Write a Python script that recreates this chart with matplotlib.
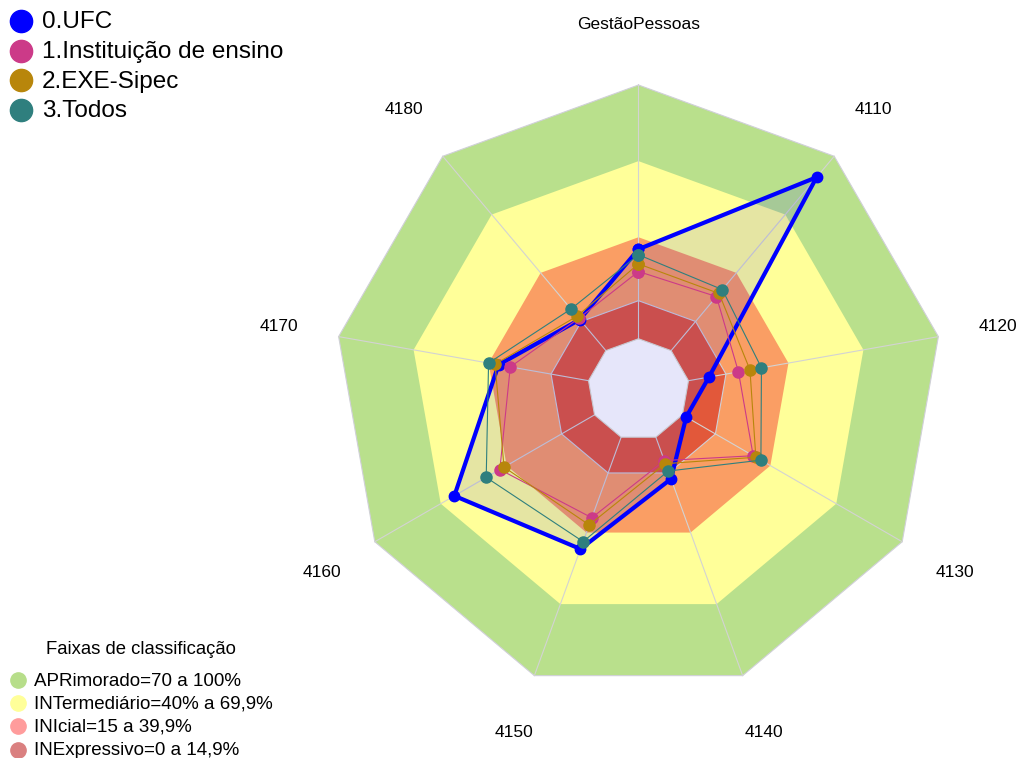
import numpy as np
import matplotlib
matplotlib.use('Agg')
import matplotlib.pyplot as plt

plt.rcParams['font.family'] = ['Liberation Sans', 'DejaVu Sans']

# axes of the radar, clockwise from the top
categories = ['GestãoPessoas', '4110', '4120', '4130', '4140',
              '4150', '4160', '4170', '4180']

# values in %
ufc = [35.3, 89.2, 8.2, 1.7, 17.5, 46.9, 63.8, 36.0, 16.0]
instituicao = [26.5, 27.8, 20.0, 32.2, 9.8, 33.8, 43.1, 31.3, 16.6]
exe_sipec = [29.5, 29.4, 24.6, 33.4, 11.1, 36.8, 41.2, 37.4, 17.7]
todos = [33.1, 31.4, 29.2, 35.7, 14.2, 43.8, 49.3, 40.0, 21.4]

series_names = ['0.UFC', '1.Instituição de ensino', '2.EXE-Sipec', '3.Todos']
series_values = [ufc, instituicao, exe_sipec, todos]
series_colors = ['#0000FF', '#CC3A88', '#B8860B', '#2F7F7E']

# classification bands (upper limit of each band)
band_limits = [100, 70, 40, 15]
band_colors = ['#B9E08C', '#FFFF99', '#FA9E64', '#E2583A']
band_names = ['APRimorado=70 a 100%', 'INTermediário=40% a 69,9%',
              'INIcial=15 a 39,9%', 'INExpressivo=0 a 14,9%']
band_key_colors = ['#B7DE8A', '#FFFF99', '#FF9C9C', '#DA8080']
hole_color = '#E6E6FA'

CGAP = 1 / 6  # hollow centre, value 0 sits on this radius
n = len(categories)
theta = np.arange(n) * 2 * np.pi / n


def to_xy(values, closed=True):
    '''Convert % values to x, y on the radar (top = first axis, clockwise).'''
    v = np.asarray(values, dtype=float)
    r = CGAP + (1 - CGAP) * v / 100
    x, y = r * np.sin(theta), r * np.cos(theta)
    if closed:
        x, y = np.append(x, x[0]), np.append(y, y[0])
    return x, y


W, H = 1020, 758
CX, CY, R = 638.5, 389.5, 304.5  # centre / radius in pixels

fig = plt.figure(figsize=(W / 100, H / 100), dpi=100)
ax = fig.add_axes([0, 0, 1, 1])
ax.set_xlim(-CX / R, (W - CX) / R)
ax.set_ylim(-(H - CY) / R, CY / R)
ax.axis('off')

# background bands
for lim, col in zip(band_limits, band_colors):
    x, y = to_xy([lim] * n)
    ax.fill(x, y, color=col, lw=0, zorder=1)
for lim in [100, 15]:
    x, y = to_xy([lim] * n)
    ax.plot(x, y, color='#D0D0D8', lw=0.8, zorder=2)

# spokes
x0, y0 = to_xy([0] * n, closed=False)
x1, y1 = to_xy([100] * n, closed=False)
for i in range(n):
    ax.plot([x0[i], x1[i]], [y0[i], y1[i]], color='#D3D3D3', lw=0.8, zorder=2)

# hollow centre
x, y = to_xy([0] * n)
ax.fill(x, y, color=hole_color, lw=0, zorder=3.5)
ax.plot(x, y, color='#C8C8D0', lw=0.8, zorder=3.6)

# series
for i, (name, vals, col) in enumerate(zip(series_names, series_values, series_colors)):
    x, y = to_xy(vals)
    if i == 0:
        ax.fill(x, y, color=(0, 0, 1, 0.1), lw=0, zorder=3)
        ax.plot(x, y, color=col, lw=3, marker='o', markersize=7.5, zorder=4)
    else:
        ax.plot(x, y, color=col, lw=0.8, marker='o', markersize=8, zorder=4 + i)

# axis labels
lx, ly = to_xy([124] * n, closed=False)
for i, lab in enumerate(categories):
    ax.text(lx[i], ly[i], lab, ha='center', va='center', fontsize=12.5)


def fig_xy(px, py):
    return px / W, 1 - py / H


# series legend (top left)
for i, (name, col) in enumerate(zip(series_names, series_colors)):
    py = 21 + 29.6 * i
    ax.plot(*fig_xy(21, py), 'o', color=col, markersize=16,
            transform=fig.transFigure, clip_on=False)
    fig.text(*fig_xy(42, py + 1.5), name, ha='left', va='center', fontsize=17.5)

# band legend (bottom left)
fig.text(*fig_xy(141, 649), 'Faixas de classificação', ha='center',
         va='center', fontsize=13.3)
for i, (name, col) in enumerate(zip(band_names, band_key_colors)):
    py = 680 + 23.2 * i
    ax.plot(*fig_xy(18, py), 'o', color=col, markersize=11,
            transform=fig.transFigure, clip_on=False)
    fig.text(*fig_xy(34, py + 1), name, ha='left', va='center', fontsize=13.5)

fig.savefig('out.png', dpi=100)
